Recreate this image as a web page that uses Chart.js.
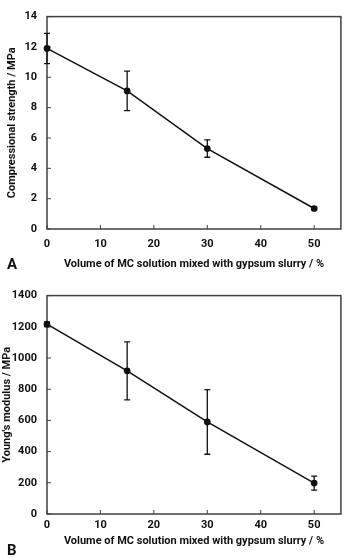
<!DOCTYPE html>
<html><head><meta charset="utf-8">
<script src="https://cdn.jsdelivr.net/npm/chart.js@4"></script>
<style>
html,body{margin:0;padding:0;background:#fff;width:345px;height:558px;overflow:hidden}
.w{position:relative;width:345px;height:279px}
canvas{display:block}
.lab{position:absolute;left:7px;font:bold 15px Roboto, sans-serif;color:#111;line-height:1}
</style></head><body>
<div class="w"><canvas id="ca" width="345" height="279"></canvas><div class="lab" style="top:257px">A</div></div>
<div class="w"><canvas id="cb" width="345" height="279"></canvas><div class="lab" style="top:264px">B</div></div>
<script>
const volumes = [0, 15, 30, 50];
const strength = [11.9, 9.1, 5.3, 1.35];
const strengthErr = [1.0, 1.3, 0.57, 0.08];
const modulus = [1217, 918, 590, 198];
const modulusErr = [15, 186, 207, 45];
const xTicks = [0, 10, 20, 30, 40, 50];
const strengthTicks = [0, 2, 4, 6, 8, 10, 12, 14];
const modulusTicks = [0, 200, 400, 600, 800, 1000, 1200, 1400];
const xTitle = 'Volume of MC solution mixed with gypsum slurry / %';

const FONT = 'Roboto, sans-serif';
const INK = '#111111';
const AXIS = '#404040';

const decor = {
  id: 'decor',
  beforeDatasetsDraw(chart) {
    const {ctx, chartArea: a, scales} = chart;
    ctx.save();
    ctx.strokeStyle = AXIS;
    ctx.lineWidth = 1.5;
    ctx.strokeRect(a.left, a.top, a.right - a.left, a.bottom - a.top);
    ctx.lineWidth = 1;
    scales.x.ticks.forEach(t => {
      const px = scales.x.getPixelForValue(t.value);
      ctx.beginPath(); ctx.moveTo(px, a.bottom); ctx.lineTo(px, a.bottom - 4); ctx.stroke();
    });
    scales.y.ticks.forEach(t => {
      const py = scales.y.getPixelForValue(t.value);
      ctx.beginPath(); ctx.moveTo(a.left, py); ctx.lineTo(a.left + 4, py); ctx.stroke();
    });
    ctx.restore();
  },
  afterDatasetsDraw(chart) {
    const {ctx, scales} = chart;
    const vals = chart.config.options.plugins.decor.values;
    const errs = chart.config.options.plugins.decor.errors;
    ctx.save();
    ctx.strokeStyle = INK;
    ctx.lineWidth = 1.3;
    vals.forEach((v, i) => {
      const px = scales.x.getPixelForValue(volumes[i]);
      const yt = scales.y.getPixelForValue(v + errs[i]);
      const yb = scales.y.getPixelForValue(v - errs[i]);
      ctx.beginPath();
      ctx.moveTo(px, yt); ctx.lineTo(px, yb);
      ctx.moveTo(px - 3, yt); ctx.lineTo(px + 3, yt);
      ctx.moveTo(px - 3, yb); ctx.lineTo(px + 3, yb);
      ctx.stroke();
    });
    ctx.restore();
  }
};

function makeChart(id, values, errors, yTicks, yMax, yTitle, lay) {
  const f = {family: FONT, size: 11, weight: 'bold'};
  return new Chart(document.getElementById(id), {
    type: 'scatter',
    data: {
      datasets: [{
        data: volumes.map((x, i) => ({x, y: values[i]})),
        showLine: true,
        borderColor: INK,
        backgroundColor: INK,
        borderWidth: 1.5,
        pointRadius: 2.6,
        pointHoverRadius: 2.6,
        clip: false
      }]
    },
    options: {
      responsive: false,
      animation: false,
      events: [],
      layout: {padding: {left: 0, right: 2, top: lay.top, bottom: 0}},
      plugins: {legend: {display: false}, tooltip: {enabled: false}, decor: {values, errors}},
      scales: {
        x: {
          type: 'linear', min: 0, max: 55,
          afterBuildTicks: s => { s.ticks = xTicks.map(v => ({value: v})); },
          afterFit: s => { s.height = lay.xh; },
          grid: {display: false, drawTicks: false},
          border: {display: false},
          ticks: {padding: lay.xtp, color: INK, font: f, callback: v => String(v)},
          title: {display: true, text: xTitle, color: INK, padding: {top: 0, bottom: lay.xtb}, font: f}
        },
        y: {
          type: 'linear', min: 0, max: yMax,
          afterBuildTicks: s => { s.ticks = yTicks.map(v => ({value: v})); },
          afterFit: s => { s.width = 47; },
          grid: {display: false, drawTicks: false},
          border: {display: false},
          ticks: {padding: 10, color: INK, font: f, callback: v => String(v)},
          title: {display: true, text: yTitle, color: INK, padding: {top: lay.ytp, bottom: 0}, font: f}
        }
      }
    },
    plugins: [decor]
  });
}

makeChart('ca', strength, strengthErr, strengthTicks, 14, 'Compressional strength / MPa', {top: 6, xh: 50, xtp: 9, xtb: 8, ytp: 6});
makeChart('cb', modulus, modulusErr, modulusTicks, 1400, "Young's modulus / MPa", {top: 12, xh: 44, xtp: 5, xtb: 10, ytp: 0.5});
</script>
</body></html>
